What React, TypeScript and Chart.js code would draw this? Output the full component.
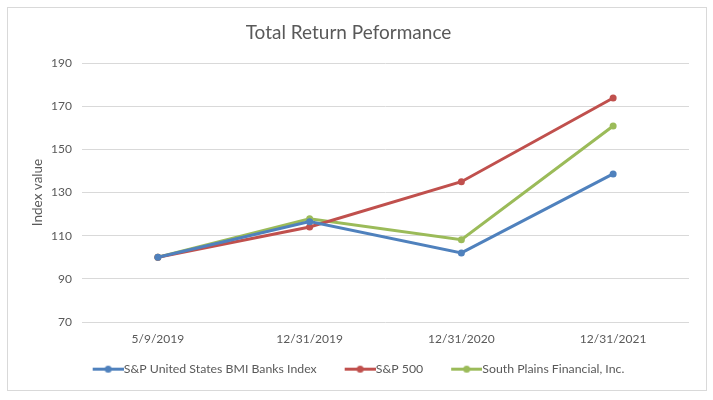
import React, { useEffect, useRef } from "react";
import { Chart, registerables } from "chart.js";

Chart.register(...registerables);

const categories = ["5/9/2019", "12/31/2019", "12/31/2020", "12/31/2021"];
const banksIndex = [100, 116.5, 102, 138.6];
const sp500 = [100, 114, 135, 173.8];
const southPlains = [100, 117.8, 108.1, 160.8];
const seriesNames = [
  "S&P United States BMI Banks Index",
  "S&P 500",
  "South Plains Financial, Inc.",
];
const seriesColors = ["#4f81bd", "#c0504d", "#9bbb59"];
const yMin = 70;
const yMax = 190;
const yStep = 20;

const FONT = "Lato, 'Open Sans', sans-serif";
const TEXT = "#595959";

function makeLegendImage(color: string, W: number, lineLen: number) {
  const c = document.createElement("canvas");
  const H = 9;
  c.width = W;
  c.height = H;
  const ctx = c.getContext("2d")!;
  ctx.strokeStyle = color;
  ctx.lineWidth = 3;
  ctx.beginPath();
  ctx.moveTo(W - lineLen, H / 2);
  ctx.lineTo(W, H / 2);
  ctx.stroke();
  ctx.fillStyle = color;
  ctx.beginPath();
  ctx.arc(W - lineLen / 2, H / 2, 3.5, 0, Math.PI * 2);
  ctx.fill();
  return c;
}

const legendShift = {
  id: "legendShift",
  afterLayout(chart: any) {
    if (chart.legend) {
      chart.legend.left -= 2;
      chart.legend.right -= 2;
    }
  },
};

export default function App() {
  const ref = useRef<HTMLCanvasElement>(null);
  useEffect(() => {
    if (!ref.current) return;
    const legendFont = 12.3;
    const bw = 49;
    const W = 61;
    const images = seriesColors.map((c) => makeLegendImage(c, W, 31));
    const values = [banksIndex, sp500, southPlains];
    const chart = new Chart(ref.current, {
      type: "line",
      data: {
        labels: categories,
        datasets: values.map((v, i) => ({
          label: seriesNames[i],
          data: v,
          borderColor: seriesColors[i],
          backgroundColor: seriesColors[i],
          pointBackgroundColor: seriesColors[i],
          pointBorderWidth: 0,
          pointRadius: 3.5,
          borderWidth: 3,
          tension: 0,
        })),
      },
      options: {
        animation: false,
        responsive: true,
        maintainAspectRatio: false,
        layout: { padding: { left: 0, right: 17, top: 0, bottom: 4.7 } },
        plugins: {
          title: {
            display: true,
            text: "Total Return Peformance",
            color: TEXT,
            font: { family: FONT, size: 19, weight: "normal" },
            padding: { top: 13.6, bottom: 18.6 },
          },
          legend: {
            position: "bottom",
            align: "center",
            labels: {
              usePointStyle: true,
              pointStyleWidth: bw,
              padding: 4,
              color: TEXT,
              font: { family: FONT, size: legendFont },
              generateLabels: (ch: any) =>
                Chart.defaults.plugins.legend.labels
                  .generateLabels(ch)
                  .map((l: any) => ({ ...l, pointStyle: images[l.datasetIndex] })),
            },
          },
          tooltip: { enabled: false },
        },
        scales: {
          x: {
            offset: true,
            grid: { display: false, drawTicks: false },
            border: { display: false },
            ticks: {
              color: TEXT,
              font: { family: FONT, size: 12 },
              padding: 9.5,
              maxRotation: 0,
            },
            afterFit: (s: any) => {
              s.height = 37;
            },
          },
          y: {
            min: yMin,
            max: yMax,
            grid: { color: "#d9d9d9", drawTicks: false, lineWidth: 1 },
            border: { display: false },
            ticks: {
              stepSize: yStep,
              color: TEXT,
              font: { family: FONT, size: 12 },
              padding: 10,
            },
            title: {
              display: true,
              text: "Index value",
              color: TEXT,
              font: { family: FONT, size: 13.5 },
              padding: { top: 22, bottom: 0 },
            },
            afterFit: (s: any) => {
              s.width = 74;
            },
          },
        },
      },
      plugins: [legendShift],
    });
    return () => chart.destroy();
  }, []);
  return (
    <div
      style={{
        position: "absolute",
        left: 7,
        top: 7,
        width: 698,
        height: 382,
        border: "1px solid #d9d9d9",
        background: "#fff",
      }}
    >
      <canvas ref={ref} />
    </div>
  );
}
